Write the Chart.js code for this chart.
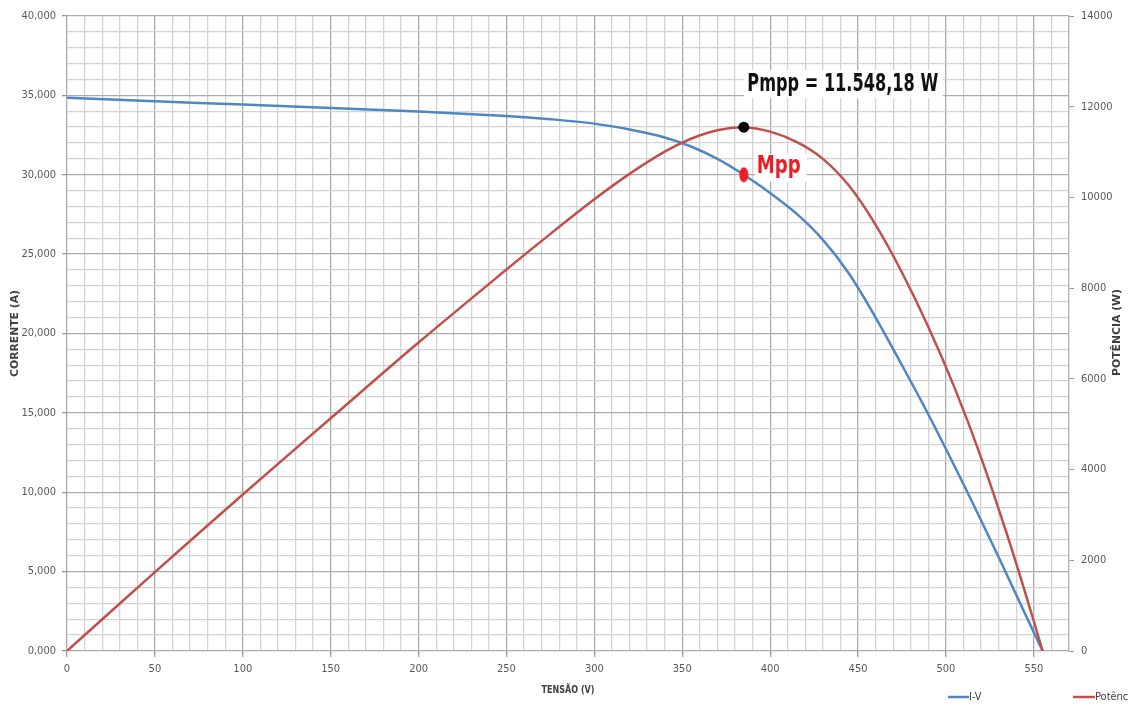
<!DOCTYPE html>
<html>
<head>
<meta charset="utf-8">
<script src="https://cdn.jsdelivr.net/npm/chart.js@4.4.1/dist/chart.umd.min.js"></script>
<style>
html, body { margin: 0; padding: 0; background: #fff; overflow: hidden; }
#wrap { width: 1136px; height: 708px; }
</style>
</head>
<body>
<div id="wrap"><canvas id="grafico"></canvas></div>
<script>
// curva I-V (tensão em V, corrente em A)
const tensaoIV = [0, 50, 100, 150, 200, 250, 275, 300, 320, 340, 355, 370, 385, 400, 415, 430, 445, 460, 475, 490, 510, 530, 545, 555];
const correnteIV = [34.85, 34.63, 34.42, 34.2, 33.98, 33.7, 33.5, 33.22, 32.85, 32.35, 31.78, 31.0, 30.0, 28.85, 27.55, 25.9, 23.75, 21.0, 18.0, 14.9, 10.5, 5.9, 2.35, 0];

// curva de potência (tensão em V, potência em W)
const tensaoP = [0, 50, 100, 150, 200, 250, 275, 300, 320, 340, 355, 370, 385, 400, 415, 430, 445, 460, 475, 490, 505, 520, 535, 545, 555];
const potenciaP = [0, 1740, 3450, 5130, 6800, 8410, 9196, 9959, 10519, 11009, 11294, 11481, 11548.18, 11450, 11225, 10850, 10250, 9395, 8345, 7145, 5795, 4265, 2540, 1300, 0];

// ponto de máxima potência
const vMpp = 385;
const iMpp = 30.0;
const pMpp = 11548.18;
const textoPmpp = 'Pmpp = 11.548,18 W';
const textoMpp = 'Mpp';

const legendas = ['I-V', 'Potência'];
const corIV = '#4f86c6';
const corP = '#c0504d';

const fonteEixo = '"Liberation Sans Narrow", "DejaVu Sans Condensed", sans-serif';

function pares(xs, ys) {
    return xs.map((x, i) => ({ x: x, y: ys[i] }));
}

// marcador elíptico vermelho do Mpp
const marcaMpp = document.createElement('canvas');
marcaMpp.width = 10;
marcaMpp.height = 16;
(function () {
    const c = marcaMpp.getContext('2d');
    c.fillStyle = '#ee1c25';
    c.beginPath();
    c.ellipse(5, 8, 4.5, 7.5, 0, 0, Math.PI * 2);
    c.fill();
})();

// escreve um texto comprimido/esticado para caber numa largura
function textoAjustado(ctx, txt, x, y, largura, angulo) {
    ctx.save();
    ctx.translate(x, y);
    if (angulo) ctx.rotate(angulo);
    const w = ctx.measureText(txt).width;
    ctx.scale(largura / w, 1);
    ctx.textAlign = 'center';
    ctx.textBaseline = 'middle';
    ctx.fillText(txt, 0, 0);
    ctx.restore();
}

const gradeCor = ctx => (ctx.tick && ctx.tick.value % 5 === 0) ? '#ababab' : '#d3d3d3';

const rotulos = {
    id: 'rotulos',
    beforeDatasetsDraw(chart) {
        const ctx = chart.ctx;
        const px = chart.scales.x.getPixelForValue(vMpp);
        const pyP = chart.scales.yP.getPixelForValue(pMpp);
        const pyI = chart.scales.y.getPixelForValue(iMpp);
        ctx.save();
        ctx.fillStyle = '#ffffff';
        ctx.fillRect(px, pyP - 57, 199, 28);
        ctx.fillRect(px + 11, pyI - 21, 52, 28);
        ctx.restore();
    },
    afterDatasetsDraw(chart) {
        const ctx = chart.ctx;
        const px = chart.scales.x.getPixelForValue(vMpp);
        const pyP = chart.scales.yP.getPixelForValue(pMpp);
        const pyI = chart.scales.y.getPixelForValue(iMpp);
        ctx.save();
        ctx.font = 'bold 24px ' + fonteEixo;
        ctx.fillStyle = '#111111';
        textoAjustado(ctx, textoPmpp, px + 99, pyP - 42, 191);
        ctx.fillStyle = '#ee1c25';
        textoAjustado(ctx, textoMpp, px + 35, pyI - 8, 44);
        ctx.restore();
    },
    afterDraw(chart) {
        const ctx = chart.ctx;
        const a = chart.chartArea;
        const cy = (a.top + a.bottom) / 2;
        ctx.save();
        ctx.fillStyle = '#404040';
        ctx.font = 'bold 10px ' + fonteEixo;
        textoAjustado(ctx, 'CORRENTE (A)', 15, cy, 87, -Math.PI / 2);
        textoAjustado(ctx, 'POTÊNCIA (W)', 1117, cy - 1, 87, -Math.PI / 2);
        textoAjustado(ctx, 'TENSÃO (V)', (a.left + a.right) / 2, 690, 53);

        // legenda
        const yl = 697;
        ctx.lineWidth = 2.5;
        ctx.strokeStyle = corIV;
        ctx.beginPath();
        ctx.moveTo(948, yl);
        ctx.lineTo(969, yl);
        ctx.stroke();
        ctx.strokeStyle = corP;
        ctx.beginPath();
        ctx.moveTo(1073, yl);
        ctx.lineTo(1095, yl);
        ctx.stroke();
        ctx.font = '11px ' + fonteEixo;
        ctx.fillStyle = '#404040';
        ctx.textAlign = 'left';
        ctx.textBaseline = 'middle';
        ctx.fillText(legendas[0], 969, yl);
        ctx.beginPath();
        ctx.rect(1095, yl - 10, 34, 20);
        ctx.clip();
        ctx.fillText(legendas[1], 1095, yl);
        ctx.restore();
    }
};

new Chart(document.getElementById('grafico'), {
    type: 'line',
    data: {
        datasets: [
            {
                label: legendas[0],
                data: pares(tensaoIV, correnteIV),
                yAxisID: 'y',
                borderColor: corIV,
                borderWidth: 2.5,
                pointRadius: 0,
                tension: 0.35,
                order: 3
            },
            {
                label: legendas[1],
                data: pares(tensaoP, potenciaP),
                yAxisID: 'yP',
                borderColor: corP,
                borderWidth: 2.5,
                pointRadius: 0,
                tension: 0.35,
                order: 2
            },
            {
                label: textoMpp,
                data: [{ x: vMpp, y: iMpp }],
                yAxisID: 'y',
                showLine: false,
                pointStyle: marcaMpp,
                pointRadius: 8,
                order: 1
            },
            {
                label: 'Pmpp',
                data: [{ x: vMpp, y: pMpp }],
                yAxisID: 'yP',
                showLine: false,
                pointRadius: 5.5,
                pointBackgroundColor: '#000000',
                pointBorderWidth: 0,
                order: 0
            }
        ]
    },
    options: {
        responsive: true,
        maintainAspectRatio: false,
        animation: false,
        layout: { padding: { top: 16, left: 0, right: 0, bottom: 0 } },
        plugins: {
            legend: { display: false },
            tooltip: { enabled: false }
        },
        scales: {
            x: {
                type: 'linear',
                min: 0,
                max: 570,
                afterFit: s => { s.height = 57; },
                ticks: {
                    stepSize: 10,
                    autoSkip: false,
                    maxRotation: 0,
                    padding: 6,
                    color: '#595959',
                    font: { family: fonteEixo, size: 11 },
                    callback: v => v % 50 === 0 ? String(v) : ''
                },
                grid: {
                    color: ctx => (ctx.tick && ctx.tick.value % 50 === 0) ? '#ababab' : '#d3d3d3',
                    lineWidth: 1.3,
                    tickLength: 6,
                    tickColor: ctx => (ctx.tick && ctx.tick.value % 50 === 0) ? '#9a9a9a' : 'rgba(0,0,0,0)'
                },
                border: { display: false }
            },
            y: {
                position: 'left',
                min: 0,
                max: 40,
                afterFit: s => { s.width = 67; },
                ticks: {
                    stepSize: 1,
                    autoSkip: false,
                    padding: 6,
                    color: '#595959',
                    font: { family: fonteEixo, size: 11 },
                    callback: v => v % 5 === 0 ? v.toFixed(3).replace('.', ',') : ''
                },
                grid: {
                    color: gradeCor,
                    lineWidth: 1.3,
                    tickLength: 5,
                    tickColor: ctx => (ctx.tick && ctx.tick.value % 5 === 0) ? '#9a9a9a' : 'rgba(0,0,0,0)'
                },
                border: { display: false }
            },
            yP: {
                position: 'right',
                min: 0,
                max: 14000,
                afterFit: s => { s.width = 67; },
                ticks: {
                    stepSize: 2000,
                    padding: 7,
                    color: '#595959',
                    font: { family: fonteEixo, size: 11 },
                    callback: v => String(v)
                },
                grid: {
                    drawOnChartArea: false,
                    tickLength: 5,
                    tickColor: '#9a9a9a'
                },
                border: { display: true, color: '#b5b5b5', width: 1.3 }
            }
        }
    },
    plugins: [rotulos]
});
</script>
</body>
</html>
